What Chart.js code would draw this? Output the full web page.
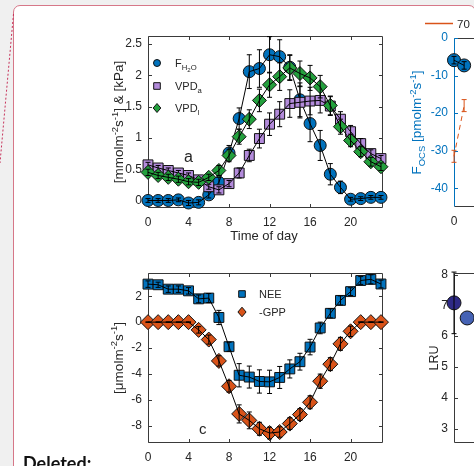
<!DOCTYPE html>
<html>
<head>
<meta charset="utf-8">
<script src="https://cdn.jsdelivr.net/npm/chart.js@4/dist/chart.umd.min.js"></script>
<style>
  html, body { margin: 0; padding: 0; }
  body { width: 474px; height: 466px; overflow: hidden; position: relative; background: #f0f0f0; }
  #sheet { position: absolute; left: 13px; top: 5px; width: 463px; height: 520px; box-sizing: border-box;
           background: #fff; border: 1.5px solid #d67788; border-radius: 7px; }
  #rule { position: absolute; left: 0; top: 0; }
  canvas { position: absolute; }
  #deleted { position: absolute; left: 23px; top: 454px; font: bold 18px Lato, "Open Sans", sans-serif; color: #111; line-height: 18px; }
</style>
</head>
<body>
<div id="sheet"></div>
<svg id="rule" width="20" height="170"><line x1="13.5" y1="14" x2="0" y2="163" stroke="#c7325a" stroke-width="1" stroke-dasharray="2,2"/></svg>
<canvas id="panel-a" width="320" height="240" style="left:80px;top:10px"></canvas>
<canvas id="panel-c" width="320" height="211" style="left:80px;top:255px"></canvas>
<canvas id="panel-b" width="330" height="240" style="left:380px;top:10px"></canvas>
<canvas id="panel-d" width="330" height="211" style="left:380px;top:255px"></canvas>
<div id="deleted">Deleted:</div>
<script>
// ---- diurnal data (hourly means) ----
const hours = [0, 1, 2, 3, 4, 5, 6, 7, 8, 9, 10, 11, 12, 13, 14, 15, 16, 17, 18, 19, 20, 21, 22, 23];
const hourTicks = [0, 4, 8, 12, 16, 20];

// panel a: transpiration flux and vapour pressure deficits
const fH2O = [0.0, 0.0, 0.0, 0.01, -0.04, -0.03, 0.09, 0.29, 0.76, 1.31, 2.06, 2.11, 2.33, 2.30, 2.13, 1.61, 1.23, 0.88, 0.42, 0.21, 0.02, 0.03, 0.05, 0.05];
const fH2OErr = [0.03, 0.03, 0.03, 0.03, 0.04, 0.04, 0.05, 0.08, 0.12, 0.17, 0.27, 0.3, 0.29, 0.27, 0.2, 0.27, 0.29, 0.24, 0.17, 0.1, 0.03, 0.03, 0.03, 0.03];
const vpdAir = [0.57, 0.52, 0.48, 0.44, 0.40, 0.33, 0.22, 0.17, 0.27, 0.44, 0.72, 0.99, 1.22, 1.38, 1.55, 1.57, 1.59, 1.60, 1.51, 1.30, 1.10, 0.91, 0.75, 0.67];
const vpdAirErr = [0.04, 0.04, 0.04, 0.04, 0.04, 0.04, 0.04, 0.05, 0.05, 0.08, 0.1, 0.15, 0.18, 0.2, 0.22, 0.25, 0.22, 0.2, 0.15, 0.12, 0.1, 0.08, 0.06, 0.05];
const vpdLeaf = [0.45, 0.40, 0.37, 0.34, 0.30, 0.29, 0.37, 0.48, 0.72, 1.02, 1.30, 1.60, 1.85, 1.98, 2.12, 2.03, 1.96, 1.82, 1.52, 1.18, 0.96, 0.78, 0.62, 0.54];
const vpdLeafErr = [0.05, 0.05, 0.05, 0.05, 0.05, 0.05, 0.05, 0.08, 0.1, 0.12, 0.15, 0.18, 0.2, 0.22, 0.2, 0.2, 0.2, 0.18, 0.15, 0.12, 0.1, 0.08, 0.07, 0.06];
const ticksA = [0, 0.5, 1, 1.5, 2, 2.5];

// panel c: carbon fluxes
const nee = [2.94, 2.89, 2.55, 2.55, 2.42, 1.80, 1.86, 0.36, -1.90, -4.11, -4.25, -4.59, -4.62, -4.28, -3.62, -3.06, -1.93, -0.45, 0.68, 1.68, 2.36, 3.22, 3.31, 2.95];
const neeErr = [0.25, 0.2, 0.25, 0.25, 0.25, 0.3, 0.35, 0.55, 0.35, 0.9, 0.85, 0.9, 0.9, 0.85, 0.7, 0.65, 0.6, 0.45, 0.35, 0.35, 0.3, 0.3, 0.35, 0.3];
const negGpp = [0, 0, 0, 0, 0, -0.6, -1.35, -3.0, -4.96, -7.1, -7.6, -8.25, -8.58, -8.5, -7.85, -7.15, -6.2, -4.57, -3.25, -1.68, -0.71, 0, 0, 0];
const negGppErr = [0.02, 0.02, 0.02, 0.02, 0.02, 0.25, 0.35, 0.4, 0.45, 0.7, 0.65, 0.5, 0.45, 0.4, 0.45, 0.45, 0.5, 0.55, 0.5, 0.5, 0.4, 0.02, 0.02, 0.02];
const ticksC = [-8, -6, -4, -2, 0, 2];

// panel b: OCS flux
const ocsHours = [0, 1];
const fOcs = [-5.9, -7.3];
const fOcsErr = [1.0, 1.0];
const ocsOrange = [-31.5, -18];
const ocsOrangeErr = [1.6, 1.6];
const ticksB = [-40, -30, -20, -10, 0];

// panel d: leaf relative uptake
const lruHours = [0, 1.3];
const lru = [7.08, 6.59];
const lruErr = [1.0, 0];
const ticksD = [3, 4, 5, 6, 7, 8];

const FONT = '"Liberation Sans", Arial, Helvetica, sans-serif';
const INK = '#262626';
const BLUE = '#0072BD';
const ORANGE = '#D95319';
const PURPLE = '#B38BDB';
const GREEN = '#23A03D';

const SCRIPT = {
  '':   { scale: 1,    shift: 0 },
  sup:  { scale: 0.7,  shift: -0.42 },
  sub:  { scale: 0.7,  shift: 0.28 },
  sub2: { scale: 0.55, shift: 0.5 }
};

// text with super/subscripts, centred on (x, y) or left-aligned
function drawRich(ctx, item, x, y) {
  const size = item.size || 13;
  ctx.save();
  ctx.translate(x, y);
  if (item.rotate) ctx.rotate(-Math.PI / 2);
  ctx.fillStyle = item.color || INK;
  ctx.textBaseline = 'alphabetic';
  ctx.textAlign = 'left';
  const widths = item.parts.map(([t, k]) => {
    ctx.font = `${size * SCRIPT[k].scale}px ${FONT}`;
    return ctx.measureText(t).width;
  });
  let total = 0;
  widths.forEach(w => { total += w; });
  let cx = item.align === 'left' ? 0 : -total / 2;
  const base = size * 0.36;
  item.parts.forEach(([t, k], i) => {
    ctx.font = `${size * SCRIPT[k].scale}px ${FONT}`;
    ctx.fillText(t, cx, base + SCRIPT[k].shift * size);
    cx += widths[i];
  });
  ctx.restore();
}

function drawMarker(ctx, m, x, y) {
  ctx.save();
  if (m.style === 'line') {
    ctx.strokeStyle = m.fill;
    ctx.lineWidth = 1.5;
    ctx.beginPath();
    ctx.moveTo(x - m.r, y);
    ctx.lineTo(x + m.r, y);
    ctx.stroke();
    ctx.restore();
    return;
  }
  ctx.fillStyle = m.fill;
  ctx.strokeStyle = '#111';
  ctx.lineWidth = 1;
  ctx.beginPath();
  if (m.style === 'circle') {
    ctx.arc(x, y, m.r, 0, Math.PI * 2);
  } else if (m.style === 'rect') {
    ctx.rect(x - m.r, y - m.r, m.r * 2, m.r * 2);
  } else {
    ctx.moveTo(x, y - m.r);
    ctx.lineTo(x + m.r * 0.85, y);
    ctx.lineTo(x, y + m.r);
    ctx.lineTo(x - m.r * 0.85, y);
    ctx.closePath();
  }
  ctx.fill();
  ctx.stroke();
  ctx.restore();
}

// axes box with inward ticks, drawn under the data
function frame(opts) {
  return {
    id: 'frame',
    beforeDatasetsDraw(chart) {
      const { ctx, chartArea: a, scales: { x, y } } = chart;
      const L = Math.round(a.left) + 0.5, R = Math.round(a.right) - 0.5;
      const T = Math.round(a.top) + 0.5, B = Math.round(a.bottom) - 0.5;
      const tl = 3.5;
      ctx.save();
      ctx.lineWidth = 1;
      ctx.strokeStyle = opts.color || '#3a3a3a';
      ctx.beginPath();
      ctx.moveTo(L, T); ctx.lineTo(R, T);
      ctx.moveTo(R, T); ctx.lineTo(R, B);
      ctx.moveTo(L, B); ctx.lineTo(R, B);
      (opts.xTicks || []).forEach(v => {
        const px = Math.round(x.getPixelForValue(v)) + 0.5;
        ctx.moveTo(px, B); ctx.lineTo(px, B - tl);
        ctx.moveTo(px, T); ctx.lineTo(px, T + tl);
      });
      (opts.yTicks || []).forEach(v => {
        const py = Math.round(y.getPixelForValue(v)) + 0.5;
        ctx.moveTo(R, py); ctx.lineTo(R - tl, py);
      });
      ctx.stroke();
      ctx.strokeStyle = opts.leftColor || opts.color || '#3a3a3a';
      ctx.beginPath();
      ctx.moveTo(L, T); ctx.lineTo(L, B);
      (opts.yTicks || []).forEach(v => {
        const py = Math.round(y.getPixelForValue(v)) + 0.5;
        ctx.moveTo(L, py); ctx.lineTo(L + tl, py);
      });
      ctx.stroke();
      ctx.restore();
    }
  };
}

// vertical error bars with caps, drawn on top of each line
const errorBars = {
  id: 'errorBars',
  afterDatasetDraw(chart, args) {
    const ds = chart.data.datasets[args.index];
    if (!ds.errors) return;
    const { ctx, scales: { y } } = chart;
    ctx.save();
    ctx.strokeStyle = ds.errorColor || '#000';
    ctx.lineWidth = 1;
    ctx.beginPath();
    args.meta.data.forEach((pt, i) => {
      const e = ds.errors[i];
      if (!e) return;
      const v = ds.data[i].y;
      const top = y.getPixelForValue(v + e), bot = y.getPixelForValue(v - e);
      ctx.moveTo(pt.x, top); ctx.lineTo(pt.x, bot);
      ctx.moveTo(pt.x - 2.5, top); ctx.lineTo(pt.x + 2.5, top);
      ctx.moveTo(pt.x - 2.5, bot); ctx.lineTo(pt.x + 2.5, bot);
    });
    ctx.stroke();
    ctx.restore();
  }
};

// titles, panel letters and legend keys
function notes(items) {
  return {
    id: 'notes',
    afterDraw(chart) {
      const ctx = chart.ctx;
      items.forEach(item => {
        let x = item.x, y = item.y;
        if (item.data) {
          x = chart.scales.x.getPixelForValue(item.x);
          y = chart.scales.y.getPixelForValue(item.y);
        }
        if (item.marker) drawMarker(ctx, item.marker, x, y);
        if (item.parts) drawRich(ctx, item, x + (item.dx || 0), y);
      });
    }
  };
}

const pts = (xs, ys) => xs.map((h, i) => ({ x: h, y: ys[i] }));

function series(xs, ys, errs, style, radius, fill, order) {
  return [
    { data: pts(xs, ys), showLine: false, pointStyle: style, pointRadius: radius,
      pointBackgroundColor: fill, pointBorderColor: '#111', pointBorderWidth: 1,
      clip: false, order: order + 1 },
    { data: pts(xs, ys), borderColor: '#000', borderWidth: 1, pointRadius: 0,
      clip: false, order: order, errors: errs }
  ];
}

function axisTicks(list, fitKey, fitValue, extra) {
  return Object.assign({
    grid: { display: false, drawTicks: false },
    border: { display: false },
    afterBuildTicks: s => { s.ticks = list.map(v => ({ value: v })); },
    afterFit: s => { s[fitKey] = fitValue; },
    ticks: { padding: 6, color: INK, font: { family: FONT, size: 12 }, autoSkip: false, maxRotation: 0,
             callback: v => String(v) }
  }, extra);
}

const xTickFont = { padding: 7, color: INK, font: { family: FONT, size: 12 }, autoSkip: false, maxRotation: 0 };

function makeChart(id, datasets, geom, plugins, scaleX, scaleY) {
  const canvas = document.getElementById(id);
  return new Chart(canvas.getContext('2d'), {
    type: 'line',
    data: { datasets },
    options: {
      responsive: false,
      animation: false,
      events: [],
      layout: { padding: { top: geom.top, right: geom.right, left: 0, bottom: 0 } },
      plugins: { legend: { display: false }, tooltip: { enabled: false } },
      scales: {
        x: Object.assign({ type: 'linear', min: 0, max: 23.2 }, scaleX),
        y: scaleY
      }
    },
    plugins: [errorBars].concat(plugins)
  });
}

// ---- panel a ----
makeChart('panel-a',
  [].concat(
    series(hours, fH2O, fH2OErr, 'circle', 6, BLUE, 4),
    series(hours, vpdAir, vpdAirErr, 'rect', 7, PURPLE, 2),
    series(hours, vpdLeaf, vpdLeafErr, 'rectRot', 7, GREEN, 0)
  ),
  { top: 26, right: 17 },
  [
    frame({ xTicks: hourTicks, yTicks: ticksA }),
    notes([
      { x: 38.5, y: 112, rotate: true, size: 13.5,
        parts: [['[mmolm', ''], ['-2', 'sup'], ['s', ''], ['-1', 'sup'], ['] & [kPa]', '']] },
      { x: 184, y: 225, size: 13, parts: [['Time of day', '']] },
      { x: 4.0, y: 0.7, data: true, size: 16, parts: [['a', '']] },
      { x: 77, y: 53, marker: { style: 'circle', r: 3.5, fill: BLUE }, dx: 18, align: 'left', size: 11,
        parts: [['F', ''], ['H', 'sub'], ['2', 'sub2'], ['O', 'sub']] },
      { x: 77, y: 76, marker: { style: 'rect', r: 3.3, fill: PURPLE }, dx: 18, align: 'left', size: 11,
        parts: [['VPD', ''], ['a', 'sub']] },
      { x: 77, y: 98, marker: { style: 'diamond', r: 4.5, fill: GREEN }, dx: 18, align: 'left', size: 11,
        parts: [['VPD', ''], ['l', 'sub']] }
    ])
  ],
  axisTicks(hourTicks, 'height', 42, { ticks: xTickFont }),
  axisTicks(ticksA, 'width', 68, { min: -0.12, max: 2.63 })
);

// ---- panel c ----
makeChart('panel-c',
  [].concat(
    series(hours, nee, neeErr, 'rect', 7, BLUE, 2),
    series(hours, negGpp, negGppErr, 'rectRot', 7.5, ORANGE, 0)
  ),
  { top: 18, right: 17 },
  [
    frame({ xTicks: hourTicks, yTicks: ticksC }),
    notes([
      { x: 38, y: 103, rotate: true, size: 13.5,
        parts: [['[\u03bcmolm', ''], ['-2', 'sup'], ['s', ''], ['-1', 'sup'], [']', '']] },
      { x: 5.4, y: -8.2, data: true, size: 15, parts: [['c', '']] },
      { x: 162, y: 39, marker: { style: 'rect', r: 3.3, fill: BLUE }, dx: 17, align: 'left', size: 11,
        parts: [['NEE', '']] },
      { x: 162, y: 57, marker: { style: 'diamond', r: 4.8, fill: ORANGE }, dx: 17, align: 'left', size: 11,
        parts: [['-GPP', '']] }
    ])
  ],
  axisTicks(hourTicks, 'height', 23, { ticks: xTickFont }),
  axisTicks(ticksC, 'width', 68, { min: -9.35, max: 3.8 })
);

// ---- panel b ----
makeChart('panel-b',
  [
    { data: pts(ocsHours, ocsOrange), borderColor: ORANGE, borderWidth: 1, borderDash: [5, 4], pointRadius: 0,
      clip: false, order: 3, errors: ocsOrangeErr, errorColor: ORANGE },
    { data: pts(ocsHours, fOcs), showLine: false, pointStyle: 'circle', pointRadius: 6.5,
      pointBackgroundColor: BLUE, pointBorderColor: '#111', pointBorderWidth: 1, clip: false, order: 2 },
    { data: pts(ocsHours, fOcs), borderColor: '#000', borderWidth: 1, pointRadius: 0,
      clip: false, order: 1, errors: fOcsErr }
  ],
  { top: 28, right: 21 },
  [
    frame({ yTicks: ticksB, leftColor: BLUE }),
    notes([
      { x: 36.5, y: 112.5, rotate: true, size: 13.5, color: BLUE,
        parts: [['F', ''], ['OCS', 'sub'], [' [pmolm', ''], ['-2', 'sup'], ['s', ''], ['-1', 'sup'], [']', '']] },
      { x: 59, y: 13.5, marker: { style: 'line', r: 14, fill: ORANGE }, dx: 18, align: 'left', size: 11.5,
        parts: [['70', '']] }
    ])
  ],
  axisTicks([0], 'height', 43, { ticks: xTickFont }),
  axisTicks(ticksB, 'width', 74, { min: -45, max: 0, ticks: { padding: 6, color: BLUE, font: { family: FONT, size: 12 }, callback: v => String(v) } })
);

// ---- panel d ----
makeChart('panel-d',
  [
    { data: pts(lruHours, lru), showLine: false, pointStyle: 'circle', pointRadius: 7,
      pointBackgroundColor: ['#2e2a86', '#4562b4'], pointBorderColor: '#111', pointBorderWidth: 1, clip: false, order: 2 },
    { data: pts(lruHours, lru), showLine: false, pointRadius: 0, clip: false, order: 1, errors: lruErr }
  ],
  { top: 18, right: 21 },
  [
    frame({ yTicks: ticksD }),
    notes([
      { x: 53, y: 103, rotate: true, size: 12.5, parts: [['LRU', '']] }
    ])
  ],
  axisTicks([], 'height', 23, { ticks: { display: false } }),
  axisTicks(ticksD, 'width', 74, { min: 2.53, max: 8.05 })
);
</script>
</body>
</html>
